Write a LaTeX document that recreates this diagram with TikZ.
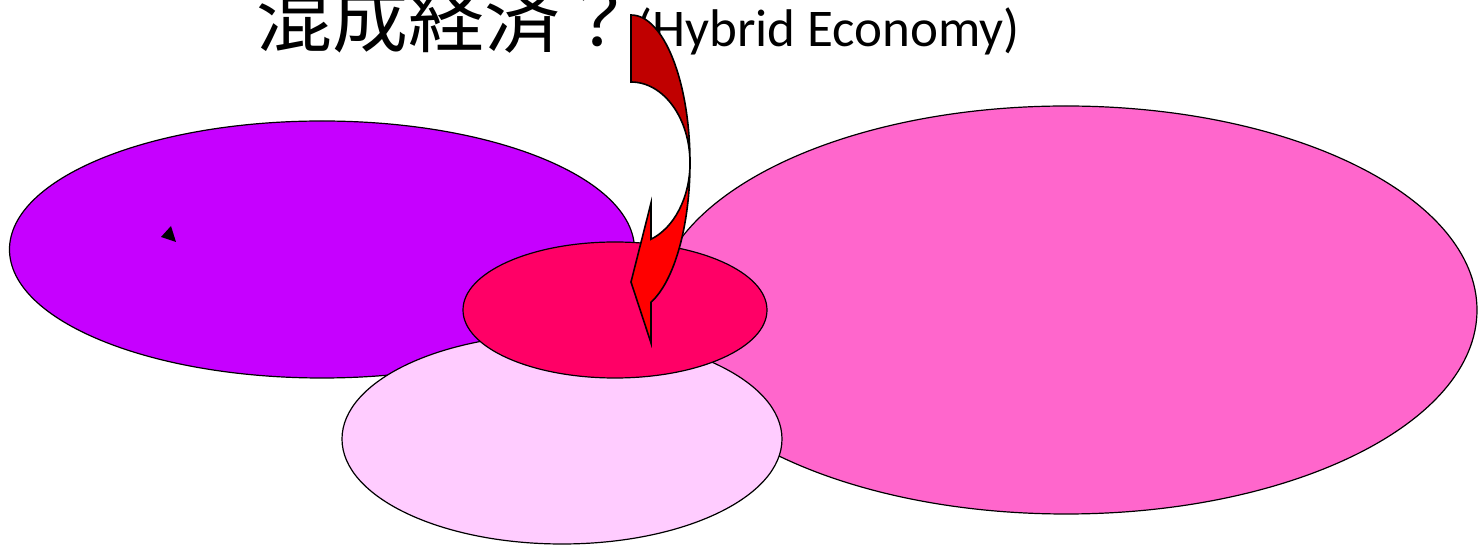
\documentclass[tikz,border=0pt]{standalone}
\usepackage{fontspec}
\setmainfont{Carlito}
\newfontfamily\jafont{Noto Sans CJK JP}
\usepackage{xcolor}
\usepackage{tikz}
\usetikzlibrary{shapes.geometric}
\definecolor{planpurple}{RGB}{198, 0, 255}
\definecolor{marketpink}{RGB}{255, 102, 204}
\definecolor{palepink}{RGB}{255, 204, 255}
\definecolor{mixpink}{RGB}{255, 0, 102}
\definecolor{darkred}{RGB}{192, 0, 0}
\definecolor{brightred}{RGB}{255, 0, 0}

\begin{document}
\begin{tikzpicture}[
    x=0.5pt, y=0.5pt,
    blob/.style={ellipse, draw, line width=0.6pt, inner sep=0pt},
    arrowpart/.style={draw, line width=0.8pt, line join=miter}
]
\clip (0,0) rectangle (1480,546);

% Economies
\node[blob, fill=planpurple, minimum width=312.5pt, minimum height=128.5pt] (plan) at (322,296.5) {};
\node[blob, fill=marketpink, minimum width=411pt, minimum height=204pt] (market) at (1066,236) {};
\node[blob, fill=palepink, minimum width=220pt, minimum height=105pt] (other) at (562,107) {};
\node[blob, fill=mixpink, minimum width=152pt, minimum height=68pt] (mixed) at (615,236) {};

% Stray mark
\fill (161,309) -- (171,320) -- (176,304) -- cycle;

% Title
\node[anchor=base west, inner sep=0pt] (title) at (256,499)
  {{\jafont\fontsize{38pt}{40pt}\selectfont 混成経済？}{\fontsize{26.5pt}{28pt}\selectfont (Hybrid Economy)}};

% Curved arrow
\draw[arrowpart, fill=darkred] (631,531) arc[start angle=90, end angle=0, x radius=29.5pt, y radius=74pt]
  arc[start angle=0, end angle=90, x radius=29.5pt, y radius=40.5pt] -- cycle;
\draw[arrowpart, fill=brightred] (690,383) arc[start angle=0, end angle=-70.2, x radius=29.5pt, y radius=74pt]
  -- (651,203) -- (631,264) -- (651,343) -- (651,306.8)
  arc[start angle=-70.2, end angle=0, x radius=29.5pt, y radius=40.5pt] -- cycle;

\end{tikzpicture}
\end{document}
